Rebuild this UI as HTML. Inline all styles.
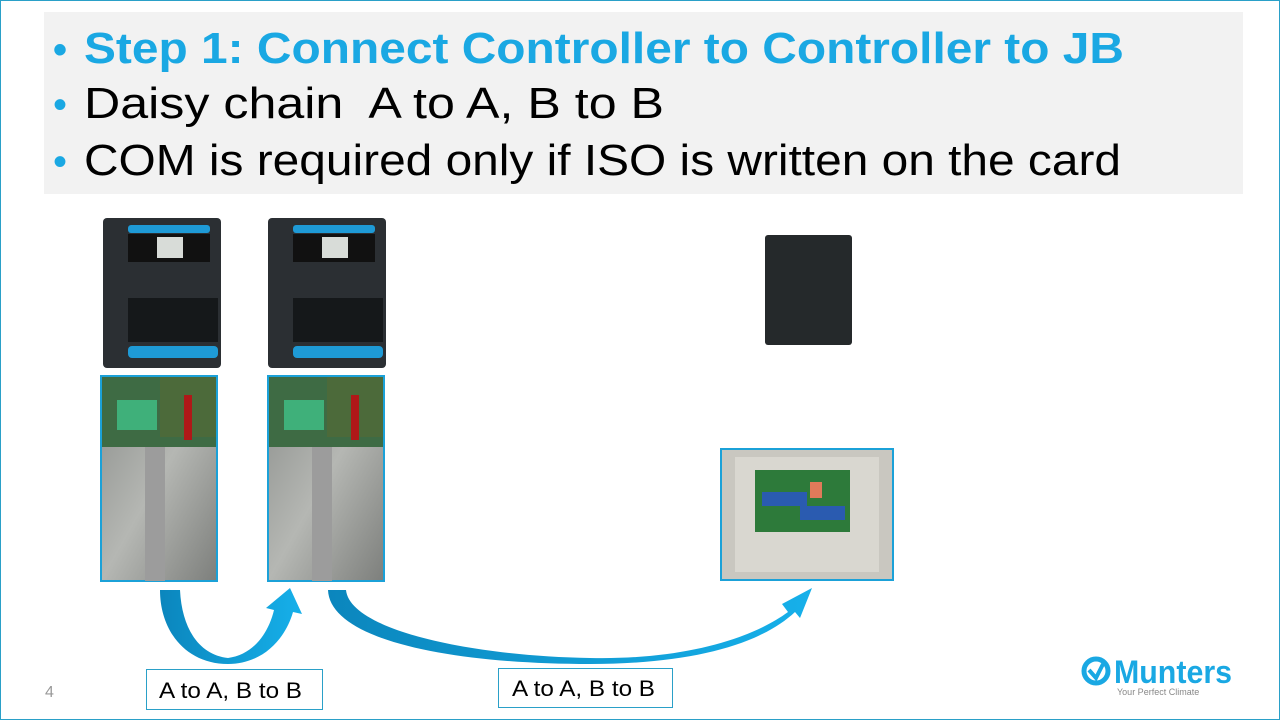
<!DOCTYPE html>
<html><head><meta charset="utf-8"><style>
html,body{margin:0;padding:0;background:#fff}
svg{display:block}
text{font-family:"Liberation Sans",sans-serif}
</style></head><body>
<svg width="1280" height="720" viewBox="0 0 1280 720" xmlns="http://www.w3.org/2000/svg">
<defs>
<linearGradient id="metal" x1="0" y1="0" x2="1" y2="1"><stop offset="0" stop-color="#8c8f8c"/><stop offset="0.5" stop-color="#b5b7b3"/><stop offset="1" stop-color="#7d7f7c"/></linearGradient>
<linearGradient id="ar" x1="0" y1="0" x2="1" y2="0"><stop offset="0" stop-color="#0b86bd"/><stop offset="1" stop-color="#16b0ea"/></linearGradient>
</defs>
<rect x="0.5" y="0.5" width="1279" height="719" fill="#fff" stroke="#2aa0c8" stroke-width="1"/>
<rect x="44" y="12" width="1199" height="182" fill="#f2f2f2"/>
<g font-size="44">
<text x="53" y="63" fill="#1aa8e3" font-weight="bold" font-size="40">•</text>
<text x="84" y="63" fill="#1aa8e3" font-weight="bold" textLength="1040" lengthAdjust="spacingAndGlyphs">Step 1: Connect Controller to Controller to JB</text>
<text x="53" y="118" fill="#1aa8e3" font-size="40">•</text>
<text x="84" y="118" fill="#000" xml:space="preserve" textLength="580" lengthAdjust="spacingAndGlyphs">Daisy chain  A to A, B to B</text>
<text x="53" y="175" fill="#1aa8e3" font-size="40">•</text>
<text x="84" y="175" fill="#000" textLength="1037" lengthAdjust="spacingAndGlyphs">COM is required only if ISO is written on the card</text>
</g>
<g id="c1">
<rect x="103" y="218" width="118" height="150" rx="4" fill="#2b2f33"/>
<rect x="128" y="225" width="82" height="8" rx="3" fill="#1e9ad6"/>
<rect x="128" y="234" width="82" height="28" fill="#111"/>
<rect x="157" y="237" width="26" height="21" fill="#d8dcd8"/>
<rect x="128" y="298" width="90" height="44" fill="#15181a"/>
<rect x="128" y="346" width="90" height="12" rx="4" fill="#1e9ad6"/>
</g>
<use href="#c1" x="165"/>
<g id="p1">
<rect x="101" y="376" width="116" height="205" fill="url(#metal)" stroke="#1ba1d8" stroke-width="2"/>
<rect x="102" y="377" width="114" height="70" fill="#3e6b44"/>
<rect x="117" y="400" width="40" height="30" fill="#3fb07a"/>
<rect x="160" y="377" width="56" height="60" fill="#4c6a3a"/>
<rect x="184" y="395" width="8" height="45" fill="#b01818"/>
<rect x="145" y="447" width="20" height="134" fill="#9c9c9c"/>
</g>
<use href="#p1" x="167"/>
<rect x="765" y="235" width="87" height="110" rx="3" fill="#25292b"/>
<rect x="721" y="449" width="172" height="131" fill="#c9c7c0" stroke="#1ba1d8" stroke-width="2"/>
<rect x="735" y="457" width="144" height="115" fill="#d9d7d0"/>
<rect x="755" y="470" width="95" height="62" fill="#2d7a3a"/>
<rect x="762" y="492" width="45" height="14" fill="#2a5bb0"/>
<rect x="800" y="506" width="45" height="14" fill="#2a5bb0"/>
<rect x="810" y="482" width="12" height="16" fill="#e07a5a"/>
<!-- arrows -->
<path d="M160 590 L180 590 C182 630 200 655 228 658 C252 655 268 635 274 610 L266 608 L290 588 L302 614 L293 612 C285 640 262 664 228 664 C185 664 160 630 160 590 Z" fill="url(#ar)"/>
<path d="M328 590 L346 590 C350 630 470 656 590 658 C680 660 750 640 788 612 L782 604 L812 588 L800 618 L795 612 C760 645 690 664 590 664 C450 664 330 640 328 590 Z" fill="url(#ar)"/>
<rect x="146.5" y="669.5" width="176" height="40" fill="#fff" stroke="#2aa0c8"/>
<text x="159" y="698" font-size="22" fill="#000" textLength="143" lengthAdjust="spacingAndGlyphs">A to A, B to B</text>
<rect x="498.5" y="668.5" width="174" height="39" fill="#fff" stroke="#2aa0c8"/>
<text x="512" y="696" font-size="22" fill="#000" textLength="143" lengthAdjust="spacingAndGlyphs">A to A, B to B</text>
<text x="45" y="697" font-size="16" fill="#999">4</text>
<circle cx="1096" cy="671" r="12" fill="none" stroke="#1aa8e3" stroke-width="5"/>
<path d="M1089 670 L1096 678 L1103 664" fill="none" stroke="#1aa8e3" stroke-width="4"/>
<text x="1114" y="683" font-size="32" font-weight="bold" fill="#1aa8e3" textLength="118" lengthAdjust="spacingAndGlyphs">Munters</text>
<text x="1117" y="695" font-size="9" fill="#888">Your Perfect Climate</text>
</svg>
</body></html>
